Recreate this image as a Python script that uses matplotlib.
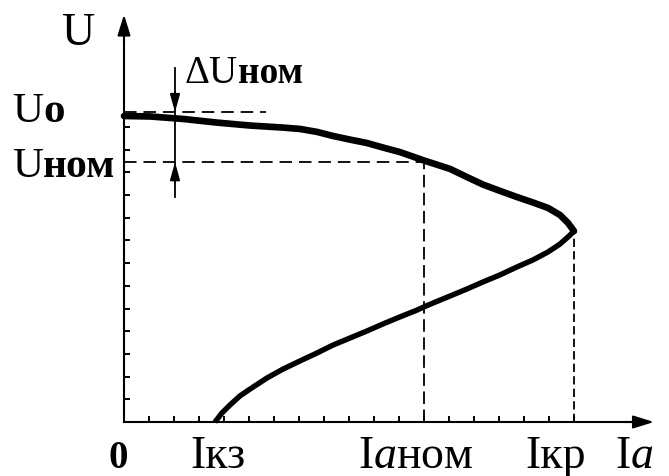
import matplotlib
matplotlib.use("Agg")
import matplotlib.pyplot as plt

plt.rcParams["lines.scale_dashes"] = False
plt.rcParams["mathtext.fontset"] = "custom"
plt.rcParams["mathtext.rm"] = "Liberation Serif"
plt.rcParams["mathtext.it"] = "Liberation Serif:italic"

# External characteristic U = f(Ia): armature current (tick units) vs voltage (tick units)
upper_I = [0.0, 1.04, 2.36, 3.72, 5.04, 6.36, 7.04, 7.72, 8.36, 9.04, 9.72,
           10.36, 11.04, 12.0, 13.04, 13.72, 14.36, 15.04, 15.72, 16.36,
           16.96, 17.44, 17.76, 18.0]
upper_U = [13.48, 13.46, 13.35, 13.19, 13.06, 12.97, 12.91, 12.78, 12.60,
           12.44, 12.29, 12.09, 11.89, 11.52, 11.15, 10.79, 10.46, 10.18,
           9.91, 9.67, 9.43, 9.12, 8.77, 8.41]
lower_I = [18.0, 17.8, 17.44, 16.96, 16.36, 15.72, 15.04, 14.36, 13.72, 13.04,
           12.36, 12.0, 11.72, 11.04, 10.36, 9.72, 9.04, 8.36, 7.72, 7.04,
           6.36, 5.72, 5.04, 4.64, 4.24, 3.92, 3.64]
lower_U = [8.41, 8.19, 7.84, 7.49, 7.14, 6.83, 6.48, 6.17, 5.86, 5.55,
           5.24, 5.07, 4.93, 4.63, 4.32, 4.01, 3.70, 3.39, 3.04, 2.69,
           2.33, 1.94, 1.45, 1.15, 0.75, 0.40, 0.0]

U0 = 13.65
U_NOM = 11.45
I_NOM = 12.0
I_KR = 18.0
U_KR = 8.41
I_KZ = 3.64

x_ticks = list(range(1, 19))
y_ticks = list(range(1, 14))

X_END = 21.2
Y_TOP = 17.95

fig = plt.figure(figsize=(6.69, 4.77), dpi=100)
ax = fig.add_axes([0, 0, 1, 1])
ax.set_xlim(-124 / 25, (669 - 124) / 25)
ax.set_ylim((423 - 477) / 22.7, 423 / 22.7)

for s in ("top", "right"):
    ax.spines[s].set_visible(False)
ax.spines["left"].set_position(("data", 0))
ax.spines["bottom"].set_position(("data", 0))
ax.spines["left"].set_bounds(0, Y_TOP - 0.3)
ax.spines["bottom"].set_bounds(0, X_END - 0.3)
for s in ("left", "bottom"):
    ax.spines[s].set_linewidth(1.5)
ax.set_xticks(x_ticks)
ax.set_yticks(y_ticks)
ax.tick_params(direction="in", length=4, width=1.4, labelbottom=False,
               labelleft=False, color="black")

arrow_style = "-|>,head_length=0.9,head_width=0.28"
ax.annotate("", xy=(0, Y_TOP), xytext=(0, Y_TOP - 1.2),
            arrowprops=dict(arrowstyle=arrow_style, color="black", lw=1.5,
                            shrinkA=0, shrinkB=0, mutation_scale=14))
ax.annotate("", xy=(X_END, 0), xytext=(X_END - 1.2, 0),
            arrowprops=dict(arrowstyle=arrow_style, color="black", lw=1.5,
                            shrinkA=0, shrinkB=0, mutation_scale=14))

# Guide lines
dash_h = dict(color="black", lw=1.3, linestyle=(0, (9, 5)))
ax.plot([0, 5.7], [U0, U0], **dash_h)
ax.plot([0, I_NOM], [U_NOM, U_NOM], **dash_h)
ax.plot([I_NOM, I_NOM], [0, U_NOM], color="black", lw=1.3, linestyle=(0, (9, 4)))
ax.plot([I_KR, I_KR], [0, U_KR], color="black", lw=1.3, linestyle=(0, (6, 3)))

# Characteristic curve
ax.plot(upper_I, upper_U, color="black", lw=4.8, solid_capstyle="round",
        solid_joinstyle="round")
ax.plot(lower_I, lower_U, color="black", lw=3.9, solid_capstyle="butt",
        solid_joinstyle="round")

# Voltage drop marker
dx = 2.04
ax.plot([dx, dx], [15.6, 9.91], color="black", lw=1.3)
small_arrow = "-|>,head_length=0.9,head_width=0.25"
ax.annotate("", xy=(dx, U0), xytext=(dx, U0 + 0.9),
            arrowprops=dict(arrowstyle=small_arrow, color="black", lw=1.3,
                            shrinkA=0, shrinkB=0, mutation_scale=12))
ax.annotate("", xy=(dx, U_NOM), xytext=(dx, U_NOM - 0.9),
            arrowprops=dict(arrowstyle=small_arrow, color="black", lw=1.3,
                            shrinkA=0, shrinkB=0, mutation_scale=12))

serif = "Liberation Serif"
big = 33


def label(x, y, main, sub, size=big, sub_size=None):
    t = ax.text(x, y, main, fontsize=size, family=serif, ha="left",
                va="baseline")
    fig.canvas.draw()
    bb = t.get_window_extent()
    x_end = ax.transData.inverted().transform((bb.x1, bb.y0))[0]
    ax.text(x_end, y, sub, fontsize=sub_size or size, family=serif,
            fontweight="bold", ha="left", va="baseline")


ax.text(-2.48, 16.65, "U", fontsize=big, family=serif, va="baseline")
label(-4.48, 13.26, "U", "o", size=31, sub_size=31)
label(-4.48, 10.84, "U", "ном", size=31, sub_size=30)
label(2.44, 14.98, "\u0394U", "ном", size=28, sub_size=27)

yb = -1.98
ax.text(-0.6, yb, "0", fontsize=28, family=serif, fontweight="bold",
        va="baseline")
ax.text(2.64, yb, "Iкз", fontsize=big, family=serif, va="baseline")
ax.text(9.36, yb, r"I$a$ном", fontsize=big, family=serif, va="baseline")
ax.text(16.04, yb, "Iкр", fontsize=big, family=serif, va="baseline")
ax.text(19.64, yb, r"I$a$", fontsize=big, family=serif, va="baseline")

fig.savefig("out.png", dpi=100, facecolor="white")
